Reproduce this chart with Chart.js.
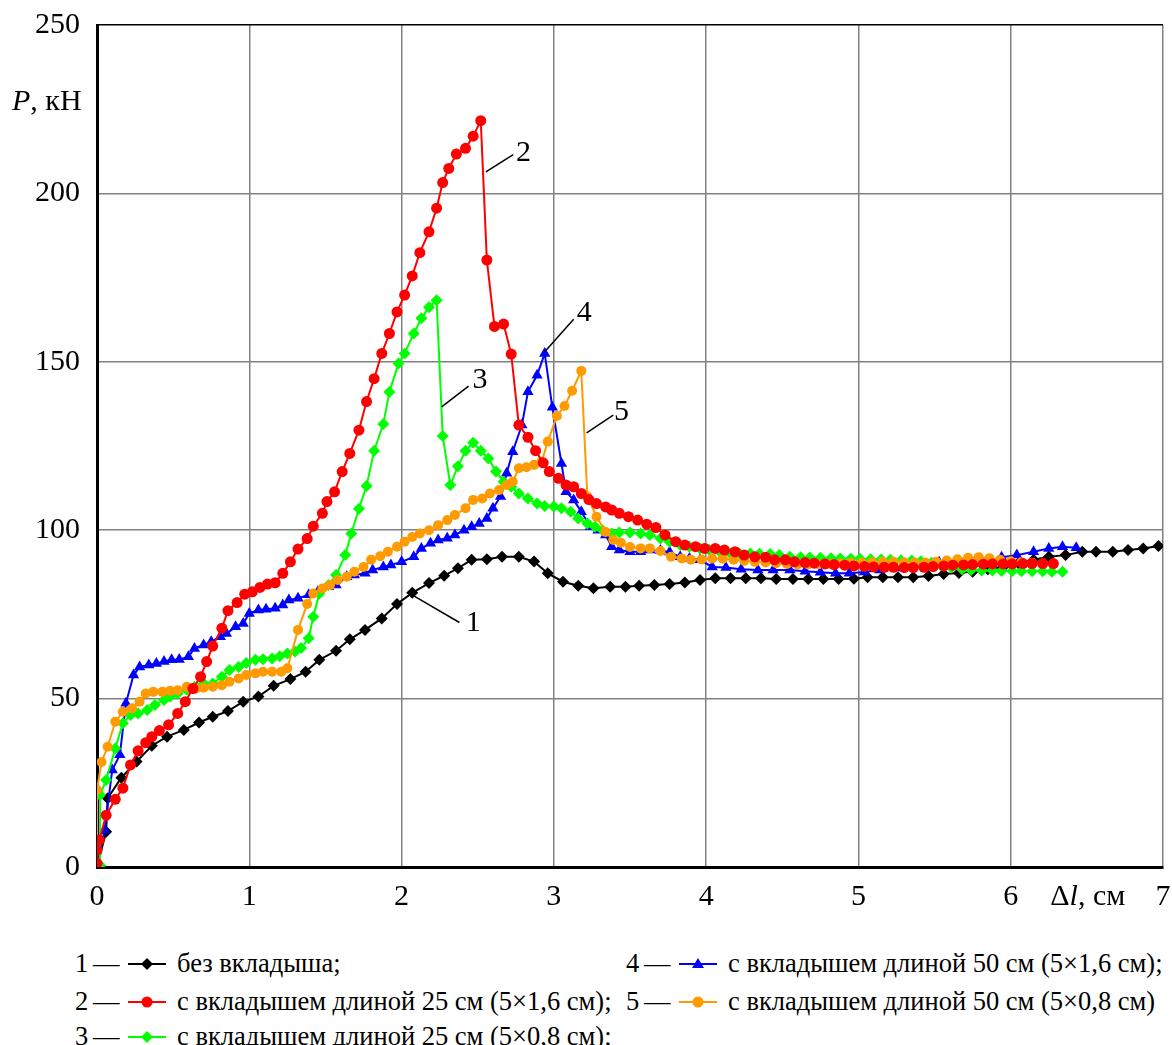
<!DOCTYPE html>
<html>
  <head>
    <meta charset="utf-8" />
    <title>P – Δl</title>
    <script src="https://cdn.jsdelivr.net/npm/chart.js"></script>
    <style>
      body { margin: 0; background: #fff; overflow: hidden; }
      #wrap { position: relative; width: 1172px; height: 1045px; }
      #box { position: absolute; left: 0; top: 0; width: 1172px; height: 925px; }
      .lg { position: absolute; font-family: "Liberation Serif", "Times New Roman", serif; font-size: 26.5px; color: #000; white-space: nowrap; line-height: 30px; }
    </style>
  </head>
  <body>
    <div id="wrap">
      <div id="box"><canvas id="chart"></canvas></div>
      <div id="legend"></div>
    </div>

    <script>
      // 1 - без вкладыша
      const x1 = [0, 0.06, 0.07, 0.16, 0.26, 0.36, 0.46, 0.57, 0.67, 0.76, 0.86, 0.96, 1.06, 1.16, 1.27, 1.37, 1.46, 1.57, 1.66, 1.76, 1.87, 1.97, 2.07, 2.18, 2.28, 2.37, 2.46, 2.56, 2.66, 2.77, 2.87, 2.96, 3.06, 3.16, 3.26, 3.37, 3.47, 3.56, 3.66, 3.76, 3.86, 3.96, 4.06, 4.16, 4.26, 4.36, 4.46, 4.57, 4.67, 4.77, 4.87, 4.97, 5.06, 5.16, 5.26, 5.36, 5.46, 5.56, 5.66, 5.75, 5.85, 5.95, 6.05, 6.15, 6.25, 6.36, 6.47, 6.56, 6.67, 6.77, 6.87, 6.97];
      const y1 = [0, 10.5, 20.4, 26.5, 31.3, 36, 38.7, 40.7, 42.9, 44.6, 46.3, 49.1, 50.6, 53.8, 55.8, 58, 61.5, 64.2, 67.6, 70.4, 73.8, 78.1, 81.4, 84.3, 86.5, 88.7, 91.2, 91.4, 92.1, 92.1, 90.7, 87.2, 84.7, 83.5, 82.8, 83.2, 83.2, 83.5, 83.7, 84, 84.5, 85.2, 85.7, 85.7, 85.7, 85.7, 85.5, 85.5, 85.5, 85.5, 85.5, 85.6, 86, 86, 86, 86, 86.4, 87, 87.3, 87.7, 88.4, 89.1, 90.2, 91.2, 92.1, 92.6, 93.6, 93.6, 93.6, 94.1, 94.6, 95.3];

      // 2 - вкладыш 25 см (5×1,6 см)
      const x2 = [0, 0, 0.015, 0.06, 0.12, 0.17, 0.22, 0.27, 0.32, 0.36, 0.41, 0.47, 0.53, 0.58, 0.63, 0.68, 0.72, 0.76, 0.82, 0.86, 0.92, 0.97, 1.02, 1.07, 1.12, 1.17, 1.22, 1.27, 1.32, 1.38, 1.42, 1.48, 1.51, 1.56, 1.61, 1.66, 1.72, 1.77, 1.82, 1.87, 1.92, 1.97, 2.02, 2.07, 2.12, 2.18, 2.23, 2.27, 2.31, 2.36, 2.42, 2.47, 2.52, 2.56, 2.61, 2.67, 2.72, 2.77, 2.83, 2.88, 2.93, 2.97, 3.03, 3.08, 3.13, 3.18, 3.23, 3.28, 3.34, 3.38, 3.43, 3.49, 3.55, 3.61, 3.67, 3.73, 3.80, 3.86, 3.93, 3.99, 4.06, 4.12, 4.19, 4.25, 4.32, 4.39, 4.45, 4.52, 4.58, 4.65, 4.71, 4.78, 4.84, 4.91, 4.97, 5.04, 5.10, 5.17, 5.23, 5.30, 5.36, 5.43, 5.49, 5.56, 5.62, 5.69, 5.75, 5.82, 5.88, 5.95, 6.01, 6.08, 6.14, 6.21, 6.28];
      const y2 = [1.1, 5, 8, 15.4, 20.1, 23.4, 30.3, 34.5, 36.9, 38.7, 40.5, 42.2, 45.6, 49.1, 53, 56.5, 61, 65.6, 70.9, 76.1, 78.5, 81, 81.7, 83, 84, 84.4, 87.2, 90.6, 94.4, 97.5, 101.2, 105, 108.5, 111.4, 117.4, 122.8, 129.7, 138.2, 145, 152.5, 158.4, 164.8, 169.8, 175.5, 182.4, 188.6, 195.6, 203.2, 207.4, 211.7, 213.4, 217, 221.6, 180.2, 160.5, 161.2, 152.3, 131.2, 127.6, 123.6, 120, 117.4, 115.4, 113.4, 112.9, 110.9, 109.1, 107.9, 106.9, 106, 105, 104, 103, 101.8, 100.8, 98.6, 96.6, 95.6, 95.1, 94.6, 94.6, 94.1, 93.6, 92.6, 92.1, 92, 91.2, 91.2, 90.6, 90.4, 90.2, 90, 89.8, 89.6, 89.4, 89.2, 89.1, 89, 89, 88.9, 88.9, 89, 89.2, 89.4, 89.6, 89.7, 89.8, 89.9, 90, 90, 90, 90.1, 90.1, 90.1, 90.1];

      // 3 - вкладыш 25 см (5×0,8 см)
      const x3 = [0.02, 0.02, 0.06, 0.12, 0.17, 0.22, 0.27, 0.33, 0.38, 0.44, 0.48, 0.53, 0.59, 0.64, 0.70, 0.76, 0.82, 0.87, 0.93, 0.98, 1.04, 1.09, 1.15, 1.20, 1.25, 1.30, 1.34, 1.39, 1.42, 1.46, 1.52, 1.57, 1.63, 1.67, 1.72, 1.77, 1.82, 1.88, 1.92, 1.98, 2.02, 2.08, 2.13, 2.18, 2.23, 2.27, 2.32, 2.37, 2.42, 2.47, 2.52, 2.57, 2.62, 2.67, 2.72, 2.77, 2.83, 2.89, 2.94, 3.0, 3.05, 3.11, 3.16, 3.22, 3.27, 3.32, 3.38, 3.43, 3.50, 3.57, 3.63, 3.70, 3.76, 3.83, 3.89, 3.96, 4.02, 4.09, 4.16, 4.22, 4.29, 4.35, 4.42, 4.48, 4.55, 4.62, 4.68, 4.75, 4.82, 4.88, 4.95, 5.01, 5.08, 5.15, 5.21, 5.28, 5.35, 5.41, 5.48, 5.54, 5.61, 5.68, 5.74, 5.81, 5.88, 5.94, 6.01, 6.07, 6.14, 6.21, 6.27, 6.34];
      const y3 = [0.5, 21.4, 25.8, 35.2, 42.7, 45.1, 45.6, 46.6, 48.1, 49.6, 50.6, 51.5, 52.6, 53.5, 54.5, 54.5, 56.5, 58.5, 59.4, 60.6, 61.5, 61.7, 61.9, 62.6, 63.4, 64, 65, 67.9, 74.3, 81.2, 83.7, 86.7, 92.6, 99, 106.4, 113.1, 123.6, 131.5, 141, 149.5, 152.5, 158.4, 162.9, 166.2, 168.3, 128, 113.4, 119, 123.6, 126, 123.6, 121.3, 117.4, 114.4, 112.9, 110.9, 109.4, 107.9, 107.2, 107, 106.5, 105.5, 103.5, 102, 101, 100, 99, 99.3, 99.3, 99, 98.6, 97.5, 96.6, 95.6, 95.1, 94.6, 94.2, 93.6, 93.1, 93.1, 93.1, 93, 92.9, 92.6, 92.1, 92, 91.9, 91.8, 91.7, 91.6, 91.5, 91.5, 91.4, 91.3, 91.2, 91.1, 91, 90.8, 90.3, 89.6, 88.9, 88.4, 88.2, 88, 88, 87.9, 87.9, 87.8, 87.8, 87.8, 87.7, 87.7];

      // 4 - вкладыш 50 см (5×1,6 см)
      const x4 = [0, 0.05, 0.10, 0.15, 0.19, 0.24, 0.28, 0.34, 0.39, 0.44, 0.49, 0.54, 0.60, 0.64, 0.70, 0.75, 0.81, 0.85, 0.91, 0.96, 1.00, 1.06, 1.11, 1.17, 1.22, 1.26, 1.32, 1.39, 1.45, 1.52, 1.57, 1.64, 1.69, 1.76, 1.81, 1.88, 1.93, 2.0, 2.08, 2.13, 2.19, 2.24, 2.30, 2.35, 2.41, 2.46, 2.51, 2.56, 2.60, 2.65, 2.69, 2.73, 2.79, 2.83, 2.89, 2.94, 2.99, 3.05, 3.08, 3.13, 3.18, 3.24, 3.29, 3.34, 3.38, 3.43, 3.50, 3.57, 3.63, 3.70, 3.76, 3.83, 3.89, 3.96, 4.04, 4.13, 4.23, 4.34, 4.44, 4.55, 4.65, 4.75, 4.85, 4.94, 5.04, 5.14, 5.24, 5.34, 5.44, 5.53, 5.63, 5.73, 5.84, 5.94, 6.04, 6.15, 6.25, 6.34, 6.43];
      const y4 = [0, 11, 28.8, 33.3, 48.6, 57, 59.4, 60, 60.4, 61, 61.5, 61.6, 62.4, 64.9, 65.9, 66.9, 68.4, 69.3, 71.3, 72.3, 75.3, 76.3, 76.5, 76.8, 77.8, 79.3, 79.8, 80.8, 81.7, 83.2, 83.7, 86.2, 86.7, 87.2, 88.2, 89.1, 89.7, 90.6, 92.1, 94.6, 96.1, 97.1, 97.6, 98.6, 100, 101, 102, 103.5, 106.5, 110, 116.9, 123.3, 131.2, 141.1, 146, 152.5, 136.5, 119.8, 111.4, 109, 105.5, 101, 100, 98.6, 95.1, 94.1, 93.6, 93.6, 94.1, 94, 93.5, 92.1, 91.6, 91.2, 89.1, 88.9, 88.4, 88.2, 88.2, 88.2, 87.8, 87.5, 87.2, 87.2, 87.6, 88.2, 88.8, 89.3, 89.8, 90.5, 89.6, 89, 90, 92, 92.6, 93.6, 94.6, 95.1, 94.8];

      // 5 - вкладыш 50 см (5×0,8 см)
      const x5 = [0, 0, 0.03, 0.07, 0.12, 0.17, 0.23, 0.28, 0.32, 0.37, 0.43, 0.48, 0.53, 0.59, 0.65, 0.70, 0.76, 0.82, 0.87, 0.93, 0.98, 1.04, 1.09, 1.15, 1.21, 1.25, 1.32, 1.38, 1.42, 1.48, 1.53, 1.58, 1.64, 1.69, 1.75, 1.80, 1.86, 1.91, 1.97, 2.02, 2.07, 2.12, 2.18, 2.24, 2.30, 2.35, 2.42, 2.47, 2.53, 2.58, 2.64, 2.69, 2.73, 2.77, 2.82, 2.87, 2.92, 2.96, 3.02, 3.07, 3.12, 3.18, 3.22, 3.28, 3.34, 3.39, 3.44, 3.50, 3.57, 3.63, 3.70, 3.77, 3.84, 3.90, 3.97, 4.04, 4.11, 4.18, 4.25, 4.32, 4.39, 4.46, 4.53, 4.60, 4.67, 4.74, 4.81, 4.88, 4.95, 5.02, 5.09, 5.16, 5.23, 5.30, 5.37, 5.44, 5.51, 5.58, 5.65, 5.72, 5.79, 5.86, 5.93, 6.00, 6.07, 6.14, 6.21, 6.28];
      const y5 = [0, 22.9, 31.2, 35.7, 43.1, 46.1, 47.1, 49.1, 51.5, 52, 52, 52.3, 52.5, 53.5, 53, 53.2, 53.5, 54, 55, 56, 57, 57.5, 58, 58, 58, 59, 70.4, 78.1, 81.2, 82.7, 83.7, 85.2, 86.2, 87.7, 89.1, 91.2, 92.3, 93.6, 95.1, 96.6, 98, 99, 100, 101.5, 103, 104.5, 106.5, 109, 109.4, 110.9, 111.9, 113.4, 114.4, 118.4, 118.7, 119.4, 120.3, 126.3, 133.9, 136.9, 141.4, 147.3, 110, 104, 99.5, 97.1, 96.3, 95, 94.6, 94.6, 93.8, 92.1, 91.6, 91.2, 91.3, 91.6, 91.5, 91.2, 90.9, 90.6, 90.4, 90.2, 90, 89.8, 89.8, 89.9, 90, 90.2, 90.3, 90.4, 90.5, 90.6, 90.6, 90.5, 90.4, 90.4, 90.6, 91, 91.4, 91.8, 92, 91.7, 91.2, 90.8, 90.5, 90.3, 90.1, 90];

      const xTicks = [0, 1, 2, 3, 4, 5, 6, 7];
      const yTicks = [0, 50, 100, 150, 200, 250];

      // curve numbers with leader lines: [label, from x, from y, to x, to y, text x, text y]
      const labels = [
        ["1", 2.08, 80.5, 2.38, 72.6, 2.47, 72.3],
        ["2", 2.554, 206.4, 2.733, 211.5, 2.80, 212],
        ["3", 2.263, 136.6, 2.44, 142.8, 2.515, 144.6],
        ["4", 2.94, 153, 3.13, 162.6, 3.20, 164.4],
        ["5", 3.215, 128.9, 3.39, 134.2, 3.445, 135.2],
      ];

      const series = [
        { n: "1", name: "без вкладыша;", xs: x1, ys: y1, color: "#000000", style: "rectRot", r: 6, order: 5 },
        { n: "2", name: "с вкладышем длиной 25 см (5×1,6 см);", xs: x2, ys: y2, color: "#ff0000", style: "circle", r: 5.5, order: 1 },
        { n: "3", name: "с вкладышем длиной 25 см (5×0,8 см);", xs: x3, ys: y3, color: "#00ff00", style: "rectRot", r: 6, order: 3 },
        { n: "4", name: "с вкладышем длиной 50 см (5×1,6 см);", xs: x4, ys: y4, color: "#0000ff", style: "triangle", r: 6.5, order: 4 },
        { n: "5", name: "с вкладышем длиной 50 см (5×0,8 см)", xs: x5, ys: y5, color: "#ff9a00", style: "circle", r: 5, order: 2 },
      ];

      const zip = (xs, ys) => xs.map((x, i) => ({ x: x, y: ys[i] }));

      const datasets = series.map((s) => ({
        label: s.n,
        data: zip(s.xs, s.ys),
        showLine: true,
        borderColor: s.color,
        borderWidth: 2,
        pointStyle: s.style,
        pointRadius: s.r,
        pointBackgroundColor: s.color,
        pointBorderColor: s.color,
        pointBorderWidth: 0,
        order: s.order,
      }));

      labels.forEach((l) => {
        datasets.push({
          label: "leader " + l[0],
          data: [{ x: l[1], y: l[2] }, { x: l[3], y: l[4] }],
          showLine: true,
          borderColor: "#000",
          borderWidth: 1.5,
          pointRadius: 0,
          order: 0,
        });
      });

      const serif = '"Liberation Serif"';

      // axis captions and curve numbers
      const textPlugin = {
        id: "texts",
        afterDraw(chart) {
          const ctx = chart.ctx;
          const xs = chart.scales.x;
          const ys = chart.scales.y;
          ctx.save();
          ctx.fillStyle = "#000";
          ctx.textBaseline = "middle";
          ctx.textAlign = "center";
          ctx.font = "30px " + serif;
          labels.forEach((l) => {
            ctx.fillText(l[0], xs.getPixelForValue(l[5]), ys.getPixelForValue(l[6]));
          });

          // P, кН
          const py = ys.getPixelForValue(227);
          ctx.textAlign = "left";
          ctx.font = "italic 30px " + serif;
          let px = 12;
          ctx.fillText("P", px, py);
          px += ctx.measureText("P").width;
          ctx.font = "30px " + serif;
          ctx.fillText(", кН", px, py);

          // Δl, см
          const lx = xs.getPixelForValue(6.26);
          const ly = 897;
          ctx.font = "30px " + serif;
          ctx.fillText("Δ", lx, ly);
          let qx = lx + ctx.measureText("Δ").width;
          ctx.font = "italic 30px " + serif;
          ctx.fillText("l", qx, ly);
          qx += ctx.measureText("l").width;
          ctx.font = "30px " + serif;
          ctx.fillText(", см", qx, ly);
          ctx.restore();
        },
      };

      const noPad = (s) => {
        s.paddingTop = 0;
        s.paddingBottom = 0;
        s.paddingLeft = 0;
        s.paddingRight = 0;
      };

      function drawChart() {
        new Chart(document.getElementById("chart"), {
          type: "scatter",
          data: { datasets: datasets },
          options: {
            responsive: true,
            maintainAspectRatio: false,
            animation: false,
            events: [],
            layout: { padding: { top: 25, right: 9, left: 0, bottom: 0 } },
            plugins: { legend: { display: false }, tooltip: { enabled: false } },
            scales: {
              x: {
                type: "linear",
                min: 0,
                max: 7,
                afterFit: (s) => { s.height = 58; noPad(s); },
                afterBuildTicks: (s) => { s.ticks = xTicks.map((v) => ({ value: v })); },
                ticks: { color: "#000", font: { family: serif, size: 30 }, padding: 12, maxRotation: 0 },
                grid: { color: "#808080", lineWidth: 1.5, drawTicks: false },
                border: { color: "#000", width: 3 },
              },
              y: {
                type: "linear",
                min: 0,
                max: 250,
                afterFit: (s) => { s.width = 97; noPad(s); },
                afterBuildTicks: (s) => { s.ticks = yTicks.map((v) => ({ value: v })); },
                ticks: { color: "#000", font: { family: serif, size: 30 }, padding: 17 },
                grid: {
                  color: (c) => (c.tick && c.tick.value === 250 ? "#000" : "#808080"),
                  lineWidth: 1.5,
                  drawTicks: false,
                },
                border: { color: "#000", width: 3 },
              },
            },
          },
          plugins: [textPlugin],
        });
      }

      // legend below the chart
      function marker(s) {
        const c = s.color;
        let m = "";
        if (s.style === "circle") m = `<circle cx="19" cy="8" r="5.5" fill="${c}"/>`;
        else if (s.style === "triangle") m = `<polygon points="19,2 25,12 13,12" fill="${c}"/>`;
        else m = `<polygon points="19,2 25,8 19,14 13,8" fill="${c}"/>`;
        return `<svg width="38" height="16" viewBox="0 0 38 16"><line x1="0" y1="8" x2="38" y2="8" stroke="${c}" stroke-width="2"/>${m}</svg>`;
      }
      const legendPos = [
        [75, 963],
        [75, 1001],
        [75, 1036],
        [626, 963],
        [626, 1001],
      ];
      const lg = document.getElementById("legend");
      series.forEach((s, i) => {
        const [x0, yc] = legendPos[i];
        const parts = [
          [x0, s.n],
          [x0 + 18, "—"],
          [x0 + 53, marker(s)],
          [x0 + 102, s.name],
        ];
        parts.forEach((p) => {
          const d = document.createElement("div");
          d.className = "lg";
          d.style.left = p[0] + "px";
          d.style.top = yc - 15 + "px";
          d.innerHTML = p[1];
          if (p[1].startsWith("<svg")) d.style.top = yc - 8 + "px";
          if (p[1].startsWith("<svg")) d.style.lineHeight = "16px";
          lg.appendChild(d);
        });
      });

      Chart.defaults.font.family = serif;
      Promise.all([
        document.fonts.load('30px "Liberation Serif"', "0123456789кНсм"),
        document.fonts.load('italic 30px "Liberation Serif"', "Pl"),
      ]).then(drawChart, drawChart);
    </script>
  </body>
</html>
